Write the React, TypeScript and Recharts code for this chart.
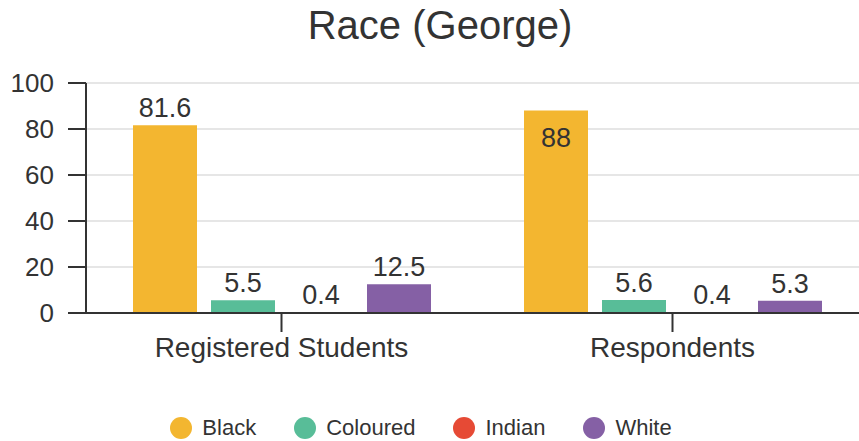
import React from 'react';
import { BarChart, Bar, XAxis, YAxis, CartesianGrid, Legend, LabelList } from 'recharts';

const categories = ['Registered Students', 'Respondents'];
const black = [81.6, 88];
const coloured = [5.5, 5.6];
const indian = [0.4, 0.4];
const white = [12.5, 5.3];
const yTicks = [0, 20, 40, 60, 80, 100];

const series = [
  { key: 'Black', color: '#F3B630', values: black },
  { key: 'Coloured', color: '#58BD98', values: coloured },
  { key: 'Indian', color: '#E64A35', values: indian },
  { key: 'White', color: '#8560A5', values: white },
];

const data = categories.map((name, i) => {
  const row: any = { name };
  series.forEach((s) => {
    row[s.key] = s.values[i];
  });
  return row;
});

const FONT = '"Liberation Sans", Arial, sans-serif';

// value label: above the bar, or inside it when the bar is near the top
const ValueLabel = (props: any) => {
  const { x, y, width, value } = props;
  if (value === null || value === undefined) return null;
  const inside = value > 85;
  return (
    <text
      x={x + width / 2}
      y={inside ? y + 27 : y - 17}
      textAnchor="middle"
      dominantBaseline="central"
      fill="#333"
      fontSize={27}
      fontFamily={FONT}
    >
      {value}
    </text>
  );
};

const LegendContent = () => (
  <div
    style={{
      display: 'flex',
      justifyContent: 'center',
      alignItems: 'center',
      fontFamily: FONT,
      fontSize: 22,
      color: '#333',
      height: 30,
      transform: 'translate(-13px, 2px)',
    }}
  >
    {series.map((s) => (
      <div key={s.key} style={{ display: 'flex', alignItems: 'center', margin: '0 19px' }}>
        <span
          style={{
            display: 'inline-block',
            width: 22,
            height: 22,
            borderRadius: 11,
            background: s.color,
            marginRight: 10,
          }}
        />
        <span>{s.key}</span>
      </div>
    ))}
  </div>
);

export default function App() {
  return (
    <div
      style={{
        position: 'absolute',
        left: 0,
        top: 0,
        width: 859,
        height: 441,
        overflow: 'hidden',
        background: '#fff',
      }}
    >
      <div
        style={{
          position: 'absolute',
          left: 0,
          top: 3,
          width: 880,
          textAlign: 'center',
          fontFamily: FONT,
          fontSize: 40,
          color: '#333',
        }}
      >
        Race (George)
      </div>
      <BarChart
        width={880}
        height={441}
        data={data}
        margin={{ top: 83, right: 12, left: 0, bottom: 0 }}
        barSize={64}
        barGap={14}
      >
        <CartesianGrid vertical={false} stroke="#e6e6e6" strokeWidth={2} />
        <XAxis
          dataKey="name"
          height={98}
          tickSize={19}
          tickMargin={5}
          stroke="#333"
          strokeWidth={2}
          tick={{ fill: '#333', fontSize: 28, fontFamily: FONT }}
        />
        <YAxis
          width={86}
          domain={[0, 100]}
          ticks={yTicks}
          tickSize={18}
          tickMargin={14}
          stroke="#333"
          strokeWidth={2}
          tick={{ fill: '#333', fontSize: 26, fontFamily: FONT }}
        />
        <Legend verticalAlign="bottom" height={30} content={<LegendContent />} />
        {series.map((s) => (
          <Bar key={s.key} dataKey={s.key} fill={s.color} isAnimationActive={false}>
            <LabelList dataKey={s.key} content={<ValueLabel />} />
          </Bar>
        ))}
      </BarChart>
    </div>
  );
}
